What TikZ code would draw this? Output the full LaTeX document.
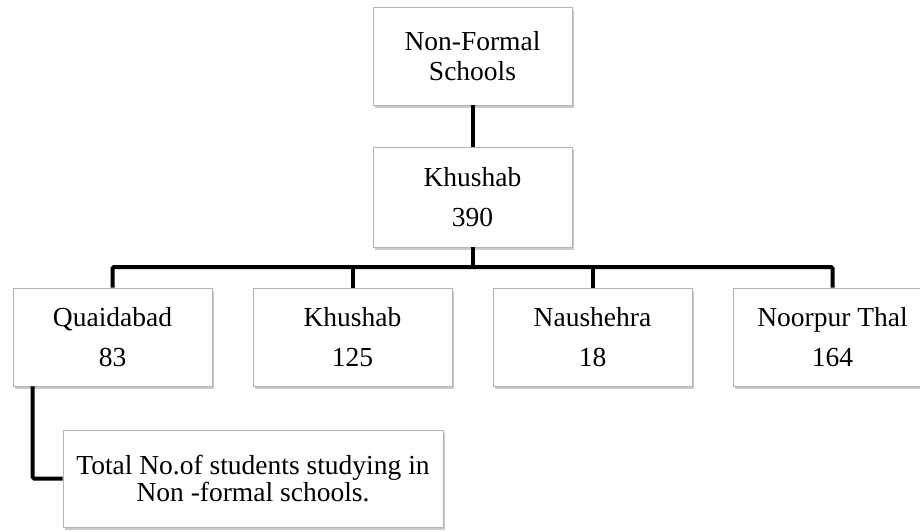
\documentclass[tikz,border=0pt]{standalone}
\usepackage{fontspec}
\setmainfont{Liberation Serif}
\usetikzlibrary{shadows,positioning}
\definecolor{boxgray}{HTML}{B4B4B4}

\begin{document}
\begin{tikzpicture}[x=1pt,y=-1pt,
	box/.style={draw=boxgray, line width=0.8pt, fill=white, minimum width=199pt,
		minimum height=98pt, inner sep=0pt, align=center,
		font=\fontsize{27.5}{30}\selectfont,
		drop shadow={shadow xshift=2pt, shadow yshift=-3pt, opacity=0.35, fill=black!60}},
	link/.style={line width=4pt, draw=black, rounded corners=1.5pt}]
	\clip (0,0) rectangle (920,531);
	\node[box] (top) at (472.5,56) {Non-Formal\\Schools};
	\node[box, minimum height=100pt] (dist) at (472.5,197) {Khushab\\[10pt]390};
	\node[box] (quai) at (112.5,337) {Quaidabad\\[10pt]83};
	\node[box] (khu) at (352.5,337) {Khushab\\[10pt]125};
	\node[box] (naus) at (592.5,337) {Naushehra\\[10pt]18};
	\node[box] (noor) at (832.5,337) {Noorpur Thal\\[10pt]164};
	\node[box, minimum width=380pt, minimum height=97pt] (total) at (253,478.5)
		{Total No.of students studying in\\[-3pt]Non -formal schools.};
	\coordinate (bus) at (472.5,267);
	\draw[link] (top) -- (dist) -- (bus);
	\draw[link] (quai.north) |- (bus) -| (noor.north);
	\draw[link] (khu.north) -- (khu.north |- bus);
	\draw[link] (naus.north) -- (naus.north |- bus);
	\draw[link] ([xshift=20pt]quai.south west) |- (total.west);
\end{tikzpicture}
\end{document}
